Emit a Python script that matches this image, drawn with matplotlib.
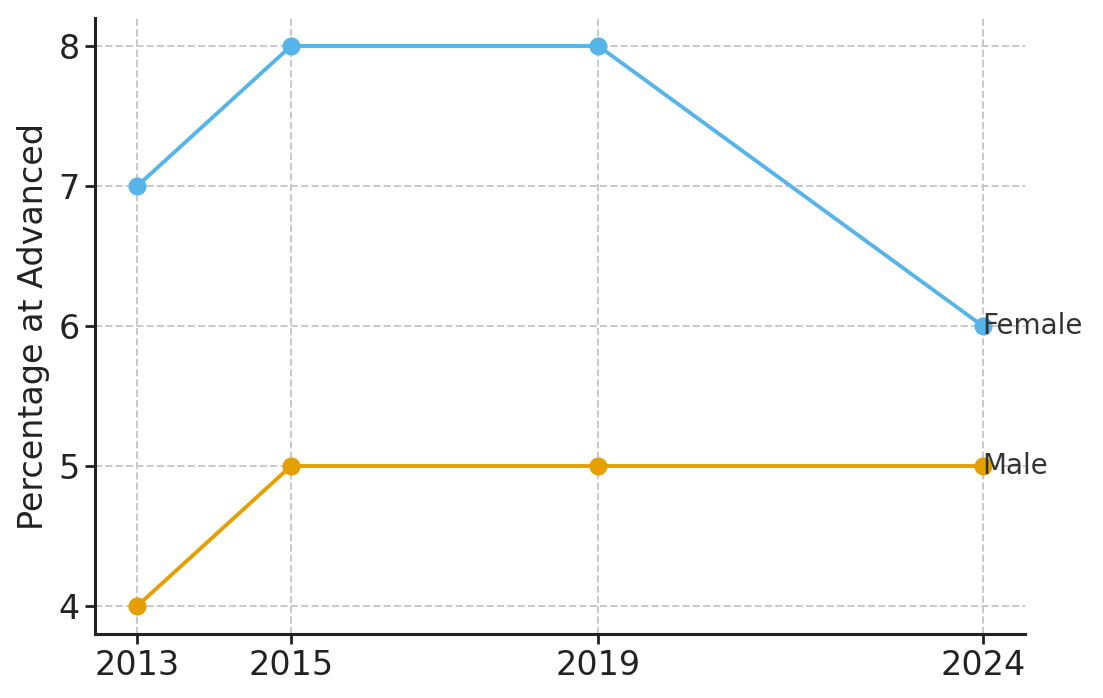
import matplotlib
matplotlib.use("Agg")
import matplotlib.pyplot as plt

# DATOS
years = [2013, 2015, 2019, 2024]
female = [7, 8, 8, 6]
male = [4, 5, 5, 5]
series = [("Female", female, "#56B4E9"), ("Male", male, "#E69F00")]

plt.rcParams["font.family"] = "DejaVu Sans"
plt.rcParams["text.color"] = "#222222"

fig, ax = plt.subplots(figsize=(5.515, 3.49), dpi=200)
fig.subplots_adjust(left=95 / 1103, right=1025 / 1103, top=1 - 18 / 698, bottom=1 - 634 / 698)

for name, vals, color in series:
    ax.plot(years, vals, color=color, linewidth=1.4, marker="o", markersize=5.5, zorder=3)
    ax.text(years[-1], vals[-1], name, fontsize=10, color="#333333", va="center", ha="left")

ax.set_xticks(years)
ax.set_yticks([4, 5, 6, 7, 8])
ax.set_ylabel("Percentage at Advanced", fontsize=12, color="#222222", labelpad=3)
ax.tick_params(labelsize=12, colors="#222222", direction="out", length=3.5, width=1, pad=2)
ax.grid(True, linestyle="--", color="#c8c8c8", linewidth=0.7)
ax.set_axisbelow(True)

for side in ["top", "right"]:
    ax.spines[side].set_visible(False)
for side in ["left", "bottom"]:
    ax.spines[side].set_linewidth(1.1)
    ax.spines[side].set_color("#222222")

plt.savefig("out.png", dpi=200)
